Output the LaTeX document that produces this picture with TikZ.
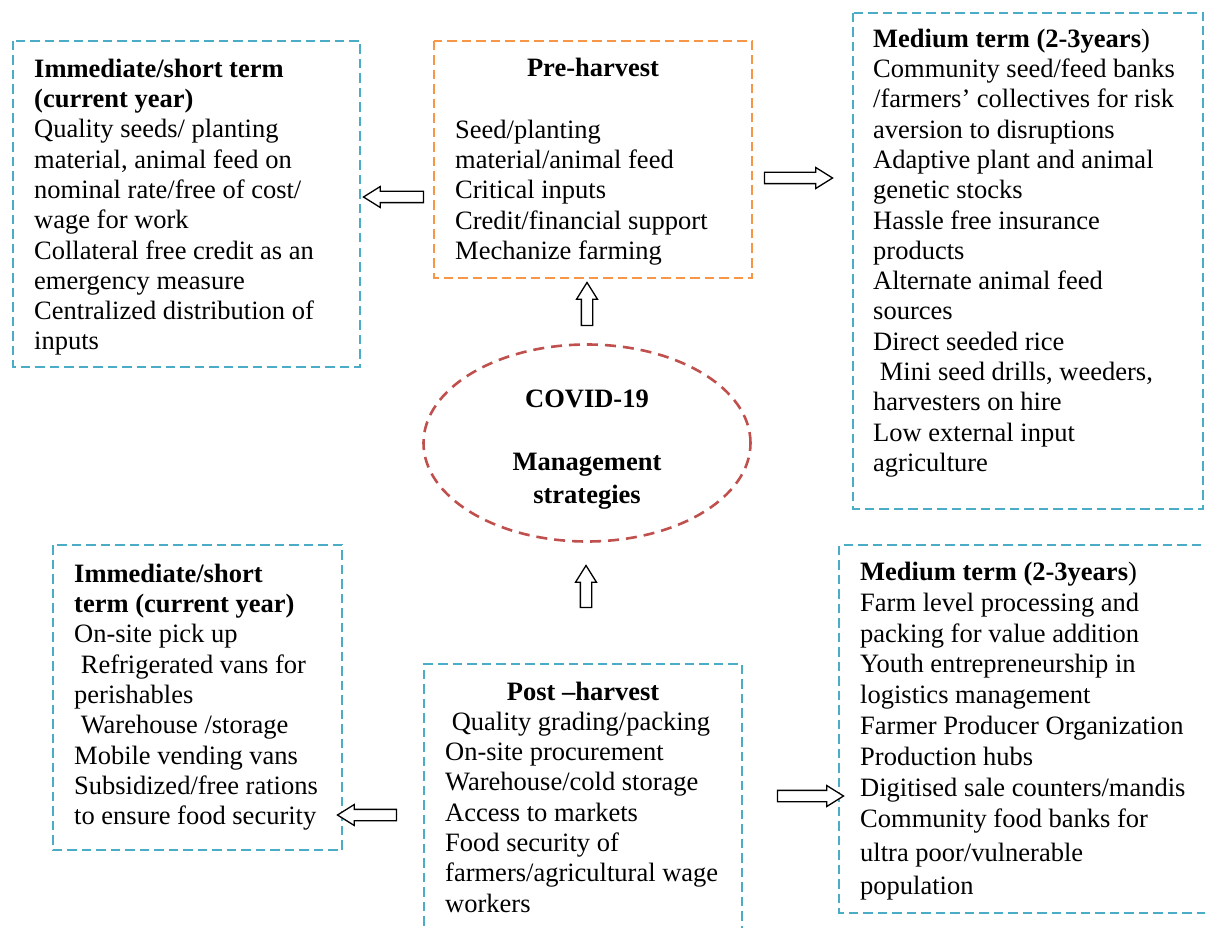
\documentclass[tikz,border=0pt]{standalone}
\usepackage{fontspec}
\setmainfont{Liberation Serif}
\usetikzlibrary{shapes.geometric,shapes.arrows}
\definecolor{boxblue}{HTML}{4BACC6}
\definecolor{boxorange}{HTML}{F79646}
\definecolor{ellred}{HTML}{C0504D}
\tikzset{
  dbox/.style={draw=#1, line width=2.6pt, dash pattern=on 9.5pt off 5pt},
  txt/.style={font=\fontsize{26.5}{30.3}\selectfont, align=left, inner sep=0pt, anchor=north west},
  ttl/.style={font=\fontsize{26.5}{30.3}\selectfont\bfseries, inner sep=0pt, anchor=base},
  blockarrow/.style={single arrow, draw=black, line width=1.3pt, fill=white,
    inner xsep=0pt, inner ysep=5pt, text height=0pt, text depth=0pt,
    minimum width=0pt, single arrow head extend=4.8pt,
    single arrow tip angle=64, single arrow head indent=0pt}
}
\begin{document}
\begin{tikzpicture}[x=1pt,y=-1pt]
\clip (0,0) rectangle (1205,928);
\fill[white] (0,0) rectangle (1205,928);

% boxes
\draw[dbox=boxblue] (13,41) rectangle (360,367);
\draw[dbox=boxorange] (434,41) rectangle (752,278);
\draw[dbox=boxblue] (853,13) rectangle (1203,509);
\draw[dbox=boxblue] (53,545) rectangle (342,850);
\draw[dbox=boxblue] (424,940) -- (424,664) -- (742,664) -- (742,940);
\draw[dbox=boxblue] (1230,545) -- (839,545) -- (839,913) -- (1230,913);

% ellipse
\node[ellipse, draw=ellred, line width=2.6pt, dash pattern=on 11pt off 7pt,
      minimum width=327pt, minimum height=197pt] (ell) at (587,443) {};
\node[ttl] (covid) at (587,407) {COVID-19};
\node[ttl, align=center, font=\fontsize{26.5}{33}\selectfont\bfseries] (mgmt) at (587,503) {Management\\strategies};

% texts
\node[txt] (tA) at (34,55.8) {\strut\textbf{Immediate/short term}\\
\textbf{(current year)}\\
Quality seeds/ planting\\
material, animal feed on\\
nominal rate/free of cost/\\
wage for work\\
Collateral free credit as an\\
emergency measure\\
Centralized distribution of\\
inputs};

\node[ttl] (tBt) at (593,77) {Pre-harvest};
\node[txt] (tB) at (455,116.8) {\strut Seed/planting\\
material/animal feed\\
Critical inputs\\
Credit/financial support\\
Mechanize farming};

\node[txt] (tC) at (873,25.8) {\strut\textbf{Medium term (2-3years})\\
Community seed/feed banks\\
/farmers’ collectives for risk\\
aversion to disruptions\\
Adaptive plant and animal\\
genetic stocks\\
Hassle free insurance\\
products\\
Alternate animal feed\\
sources\\
Direct seeded rice\\
\hspace*{.25em}Mini seed drills, weeders,\\
harvesters on hire\\
Low external input\\
agriculture};

\node[txt] (tD) at (74,560.8) {\strut\textbf{Immediate/short}\\
\textbf{term (current year)}\\
On-site pick up\\
\hspace*{.25em}Refrigerated vans for\\
perishables\\
\hspace*{.25em}Warehouse /storage\\
Mobile vending vans\\
Subsidized/free rations\\
to ensure food security};

\node[ttl] (tEt) at (583,700) {Post –harvest};
\node[txt] (tE) at (445,708.8) {\strut\hspace*{.25em}Quality grading/packing\\
On-site procurement\\
Warehouse/cold storage\\
Access to markets\\
Food security of\\
farmers/agricultural wage\\
workers};

\node[txt, font=\fontsize{26.5}{30.9}\selectfont] (tF) at (860,558.4) {\strut\textbf{Medium term (2-3years})\\
Farm level processing and\\
packing for value addition\\
Youth entrepreneurship in\\
logistics management\\
Farmer Producer Organization\\
Production hubs\\
Digitised sale counters/mandis\\
Community food banks for\\[3pt]
ultra poor/vulnerable\\[2pt]
population};

% block arrows
\node[blockarrow, minimum height=60pt, rotate=180] (a1) at (398,197) {};
\node[blockarrow, minimum height=68pt] (a2) at (794,178) {};
\node[blockarrow, minimum height=43pt, rotate=90] (a3) at (587,308.5) {};
\node[blockarrow, minimum height=42pt, rotate=90] (a4) at (586,591) {};
\node[blockarrow, minimum height=59pt, rotate=180] (a5) at (371.5,815) {};
\node[blockarrow, minimum height=66pt] (a6) at (806,796) {};
\end{tikzpicture}
\end{document}
